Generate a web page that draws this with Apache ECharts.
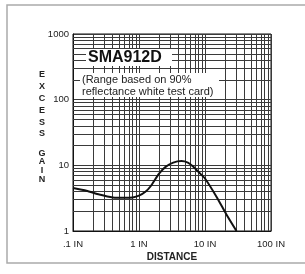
<!DOCTYPE html>
<html lang="en">
<head>
    <meta charset="UTF-8">
    <title>SMA912D excess gain</title>
    <script src="https://cdn.jsdelivr.net/npm/echarts@6/dist/echarts.min.js"></script>
    <style>
        html, body { margin: 0; padding: 0; background: #fff; }
        #chart { width: 305px; height: 274px; }
    </style>
</head>
<body>
<div id="chart"></div>
<script>
    // distance (in) and excess gain
    var distance = [0.1, 0.16, 0.25, 0.4, 0.6, 0.8, 1.0, 1.25, 1.5, 2.0, 2.5, 3.3, 4.4, 5.5, 6.6, 8.0, 10, 15, 21, 30];
    var gain     = [4.5, 4.1, 3.6, 3.25, 3.2, 3.25, 3.45, 3.95, 4.8, 7.4, 9.4, 11.0, 11.6, 11.0, 9.6, 7.9, 6.3, 3.3, 1.8, 1.0];
    var xTickLabels = ['.1 IN', '1 IN', '10 IN', '100 IN'];
    var yTickLabels = ['1', '10', '100', '1000'];

    var points = distance.map(function (d, i) { return [d, gain[i]]; });

    // log paper grid: 2..9 inside every decade
    var gridLines = [];
    [0.1, 1, 10].forEach(function (dec) {
        for (var k = 2; k <= 9; k++) gridLines.push({ xAxis: k * dec });
    });
    [1, 10, 100].forEach(function (dec) {
        for (var k = 2; k <= 9; k++) gridLines.push({ yAxis: k * dec });
    });

    var myChart = echarts.init(document.getElementById('chart'));
    var option = {
        animation: false,
        backgroundColor: '#fff',
        grid: {
            left: 73, top: 34, width: 198, height: 197,
            show: true, borderColor: '#111', borderWidth: 1
        },
        xAxis: {
            type: 'log', logBase: 10, min: 0.1, max: 100,
            axisLine: { show: true, lineStyle: { color: '#111' } },
            axisTick: { show: false },
            splitLine: { show: true, lineStyle: { color: '#3a3a3a', width: 1 } },
            axisLabel: {
                margin: 8, color: '#222', fontSize: 9.5, fontFamily: 'Liberation Sans',
                formatter: function (v) { return xTickLabels[Math.round(Math.log10(v)) + 1]; }
            }
        },
        yAxis: {
            type: 'log', logBase: 10, min: 1, max: 1000,
            axisLine: { show: true, lineStyle: { color: '#111' } },
            axisTick: { show: false },
            splitLine: { show: true, lineStyle: { color: '#3a3a3a', width: 1 } },
            axisLabel: {
                margin: 4, color: '#222', fontSize: 9.5, fontFamily: 'Liberation Sans',
                formatter: function (v) { return yTickLabels[Math.round(Math.log10(v))]; }
            }
        },
        series: [{
            type: 'line',
            data: points,
            smooth: 0.2,
            symbol: 'none',
            lineStyle: { color: '#111', width: 2 },
            z: 5,
            markLine: {
                silent: true,
                symbol: 'none',
                label: { show: false },
                lineStyle: { color: '#3a3a3a', width: 1, type: 'solid' },
                data: gridLines,
                z: 2
            }
        }],
        graphic: [
            { type: 'rect', z: 100, shape: { x: 7, y: 5, width: 310, height: 258 },
              style: { fill: 'none', stroke: '#aaa', lineWidth: 1.5 } },
            { type: 'rect', z: 100, shape: { x: 86, y: 49, width: 86, height: 17 },
              style: { fill: '#fff' } },
            { type: 'rect', z: 100, shape: { x: 80, y: 73, width: 139, height: 24 },
              style: { fill: '#fff' } },
            { type: 'text', z: 101, left: 88, top: 50,
              style: { text: 'SMA912D', fill: '#111', font: 'bold 16px "Liberation Sans"' } },
            { type: 'text', z: 101, left: 82, top: 74,
              style: { text: '(Range based on 90%\nreflectance white test card)', fill: '#222',
                       font: '11px "Liberation Sans"', lineHeight: 12 } },
            { type: 'text', z: 101, x: 42, y: 69,
              style: { text: 'E\nX\nC\nE\nS\nS', fill: '#222', align: 'center',
                       font: 'bold 9px "Liberation Sans"', lineHeight: 11.8 } },
            { type: 'text', z: 101, x: 42, y: 149,
              style: { text: 'G\nA\nI\nN', fill: '#222', align: 'center',
                       font: 'bold 9px "Liberation Sans"', lineHeight: 8.6 } },
            { type: 'text', z: 101, x: 172, y: 252,
              style: { text: 'DISTANCE', fill: '#222', align: 'center',
                       font: 'bold 10px "Liberation Sans"' } }
        ]
    };
    myChart.setOption(option);
</script>
</body>
</html>
